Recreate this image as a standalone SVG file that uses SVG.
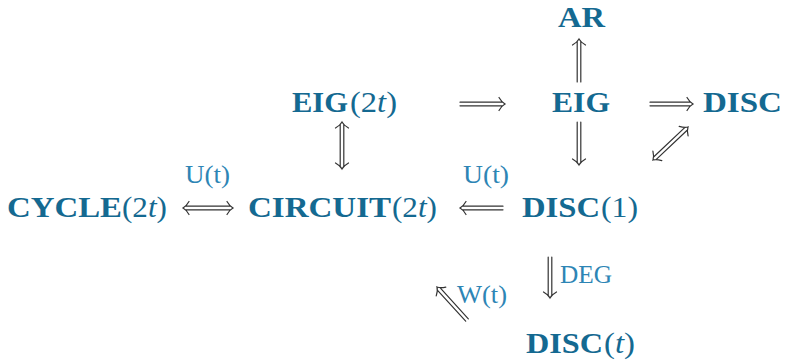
<svg xmlns="http://www.w3.org/2000/svg" width="785" height="363" viewBox="0 0 785 363">
<style>
.b{font-family:"Liberation Serif","DejaVu Serif",serif;font-weight:bold;font-size:30px;fill:#146991}
.p{font-family:"Liberation Serif","DejaVu Serif",serif;font-size:29px;fill:#146991}
.i{font-style:italic}
.l{font-family:"Liberation Serif","DejaVu Serif",serif;font-size:25px;fill:#2d85b5}
.a{fill:none;stroke:#333;stroke-width:1.2;stroke-linecap:round}
</style>
<rect width="785" height="363" fill="#fff"/>
<g id="connectors">
  <g transform="translate(460,104)"><path class="a" d="M0,-1.8H42.5M0,1.8H42.5M39,-6.5C41,-3 43,-1 45,0C43,1 41,3 39,6.5"/></g>
  <g transform="translate(650,104)"><path class="a" d="M0,-1.8H40.5M0,1.8H40.5M37,-6.5C39,-3 41,-1 43,0C41,1 39,3 37,6.5"/></g>
  <g transform="translate(579,82) rotate(-90)"><path class="a" d="M0,-1.8H40.5M0,1.8H40.5M37,-6.5C39,-3 41,-1 43,0C41,1 39,3 37,6.5"/></g>
  <g transform="translate(579,122) rotate(90)"><path class="a" d="M0,-1.8H40.5M0,1.8H40.5M37,-6.5C39,-3 41,-1 43,0C41,1 39,3 37,6.5"/></g>
  <g transform="translate(653,160) rotate(-43.3)"><path class="a" d="M2.5,-1.8H45.6M2.5,1.8H45.6M42.1,-6.5C44.1,-3 46.1,-1 48.1,0C46.1,1 44.1,3 42.1,6.5M6,-6.5C4,-3 2,-1 0,0C2,1 4,3 6,6.5"/></g>
  <g transform="translate(342,122) rotate(90)"><path class="a" d="M2.5,-1.8H44.5M2.5,1.8H44.5M41,-6.5C43,-3 45,-1 47,0C45,1 43,3 41,6.5M6,-6.5C4,-3 2,-1 0,0C2,1 4,3 6,6.5"/></g>
  <g transform="translate(183,208)"><path class="a" d="M2.5,-1.8H47.5M2.5,1.8H47.5M44,-6.5C46,-3 48,-1 50,0C48,1 46,3 44,6.5M6,-6.5C4,-3 2,-1 0,0C2,1 4,3 6,6.5"/></g>
  <g transform="translate(503,208) rotate(180)"><path class="a" d="M0,-1.8H40.5M0,1.8H40.5M37,-6.5C39,-3 41,-1 43,0C41,1 39,3 37,6.5"/></g>
  <g transform="translate(550,257) rotate(90)"><path class="a" d="M0,-1.8H38.5M0,1.8H38.5M35,-6.5C37,-3 39,-1 41,0C39,1 37,3 35,6.5"/></g>
  <g transform="translate(467,320) rotate(-132.3)"><path class="a" d="M0,-1.8H42.1M0,1.8H42.1M38.6,-6.5C40.6,-3 42.6,-1 44.6,0C42.6,1 40.6,3 38.6,6.5"/></g>
  <text class="l" x="185" y="183" textLength="45" lengthAdjust="spacingAndGlyphs">U(t)</text>
  <text class="l" x="463" y="183" textLength="46" lengthAdjust="spacingAndGlyphs">U(t)</text>
  <text class="l" x="560" y="283" textLength="52" lengthAdjust="spacingAndGlyphs">DEG</text>
  <text class="l" x="457" y="303" textLength="50" lengthAdjust="spacingAndGlyphs">W(t)</text>
</g>
<g id="AR"><text class="b" x="558" y="27" textLength="47" lengthAdjust="spacingAndGlyphs">AR</text></g>
<g id="EIG"><text class="b" x="552" y="112" textLength="58" lengthAdjust="spacingAndGlyphs">EIG</text></g>
<g id="DISC"><text class="b" x="703" y="112" textLength="79" lengthAdjust="spacingAndGlyphs">DISC</text></g>
<g id="EIG2t"><text class="b" x="292" y="112" textLength="56" lengthAdjust="spacingAndGlyphs">EIG</text><text class="p" x="350" y="112" textLength="47" lengthAdjust="spacingAndGlyphs">(2<tspan class="i">t</tspan>)</text></g>
<g id="CYCLE2t"><text class="b" x="7" y="217" textLength="115" lengthAdjust="spacingAndGlyphs">CYCLE</text><text class="p" x="122" y="217" textLength="45" lengthAdjust="spacingAndGlyphs">(2<tspan class="i">t</tspan>)</text></g>
<g id="CIRCUIT2t"><text class="b" x="248" y="217" textLength="143" lengthAdjust="spacingAndGlyphs">CIRCUIT</text><text class="p" x="392" y="217" textLength="45" lengthAdjust="spacingAndGlyphs">(2<tspan class="i">t</tspan>)</text></g>
<g id="DISC1"><text class="b" x="522" y="217" textLength="78" lengthAdjust="spacingAndGlyphs">DISC</text><text class="p" x="601" y="217" textLength="37" lengthAdjust="spacingAndGlyphs">(1)</text></g>
<g id="DISCt"><text class="b" x="526" y="353" textLength="77" lengthAdjust="spacingAndGlyphs">DISC</text><text class="p" x="604" y="353" textLength="31" lengthAdjust="spacingAndGlyphs">(<tspan class="i">t</tspan>)</text></g>
</svg>
